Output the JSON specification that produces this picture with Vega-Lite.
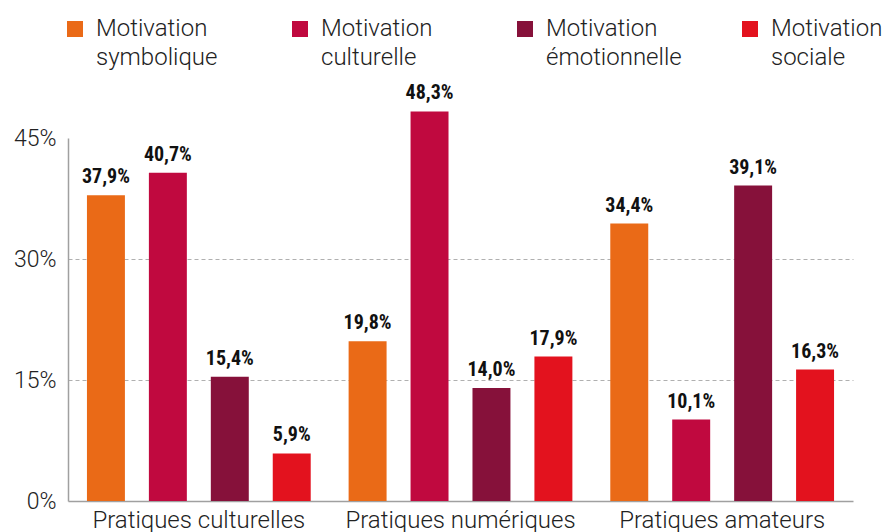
{
  "$schema": "https://vega.github.io/schema/vega-lite/v6.json",
  "width": 785,
  "height": 363,
  "autosize": {"type": "none"},
  "padding": {"left": 68, "top": 138, "right": 30, "bottom": 31},
  "background": "white",
  "config": {
    "view": {"stroke": null},
    "locale": {"number": {"decimal": ",", "thousands": " ", "grouping": [3], "currency": ["", " €"]}},
    "font": "Roboto",
    "style": {"guide-label": {"lineHeight": 29}}
  },
  "data": {
    "values": [
      {"pratique": "Pratiques culturelles", "motivation": "Motivation symbolique", "value": 0.379},
      {"pratique": "Pratiques culturelles", "motivation": "Motivation culturelle", "value": 0.407},
      {"pratique": "Pratiques culturelles", "motivation": "Motivation émotionnelle", "value": 0.154},
      {"pratique": "Pratiques culturelles", "motivation": "Motivation sociale", "value": 0.059},
      {"pratique": "Pratiques numériques", "motivation": "Motivation symbolique", "value": 0.198},
      {"pratique": "Pratiques numériques", "motivation": "Motivation culturelle", "value": 0.483},
      {"pratique": "Pratiques numériques", "motivation": "Motivation émotionnelle", "value": 0.140},
      {"pratique": "Pratiques numériques", "motivation": "Motivation sociale", "value": 0.179},
      {"pratique": "Pratiques amateurs", "motivation": "Motivation symbolique", "value": 0.344},
      {"pratique": "Pratiques amateurs", "motivation": "Motivation culturelle", "value": 0.101},
      {"pratique": "Pratiques amateurs", "motivation": "Motivation émotionnelle", "value": 0.391},
      {"pratique": "Pratiques amateurs", "motivation": "Motivation sociale", "value": 0.163}
    ]
  },
  "encoding": {
    "x": {
      "field": "pratique", "type": "nominal", "sort": null,
      "scale": {"paddingInner": 0, "paddingOuter": 0},
      "axis": {
        "title": null, "labelAngle": 0, "ticks": false, "domainColor": "#a0a0a0", "domainWidth": 1.5,
        "labelFont": "Roboto", "labelFontWeight": 300, "labelFontSize": 24, "labelColor": "#222222",
        "labelPadding": 7, "labelLimit": 400
      }
    },
    "xOffset": {
      "field": "motivation", "type": "nominal", "sort": null,
      "scale": {"paddingInner": 0.387, "paddingOuter": 0.306}
    },
    "y": {
      "field": "value", "type": "quantitative",
      "scale": {"domain": [0, 0.45], "nice": false},
      "axis": {
        "title": null, "values": [0, 0.15, 0.3, 0.45], "format": ".0%", "ticks": false,
        "domainColor": "#a0a0a0", "domainWidth": 1.5,
        "labelFont": "Roboto", "labelFontWeight": 300, "labelFontSize": 23, "labelColor": "#222222",
        "labelPadding": 12,
        "gridDash": [4, 3], "gridColor": "#b0b0b0", "gridWidth": 1,
        "gridOpacity": {"condition": {"test": "datum.value > 0.44 || datum.value < 0.01", "value": 0}, "value": 1}
      }
    }
  },
  "layer": [
    {
      "mark": {"type": "bar"},
      "encoding": {
        "color": {
          "field": "motivation", "type": "nominal",
          "scale": {
            "domain": ["Motivation symbolique", "Motivation culturelle", "Motivation émotionnelle", "Motivation sociale"],
            "range": ["#EA6A17", "#C0093F", "#86113A", "#E3121E"]
          },
          "legend": {
            "title": null, "orient": "none", "legendX": -5, "legendY": -114,
            "direction": "horizontal", "columns": 4, "gridAlign": "all",
            "symbolType": "M-1,-1.875H1V0.125H-1Z", "symbolSize": 256, "symbolStrokeWidth": 0, "symbolOpacity": 1,
            "labelExpr": "split(datum.label, ' ')",
            "labelFont": "Roboto", "labelFontWeight": 300, "labelFontSize": 24, "labelColor": "#222222",
            "labelBaseline": "alphabetic", "labelOffset": 9, "columnPadding": 56, "labelLimit": 300
          }
        }
      }
    },
    {
      "mark": {"type": "text", "baseline": "alphabetic", "dy": -12, "font": "Roboto Condensed, Liberation Sans Narrow, Roboto", "fontWeight": "bold", "fontSize": 20, "color": "#111111"},
      "encoding": {
        "text": {"field": "value", "type": "quantitative", "format": ".1%"}
      }
    }
  ]
}
